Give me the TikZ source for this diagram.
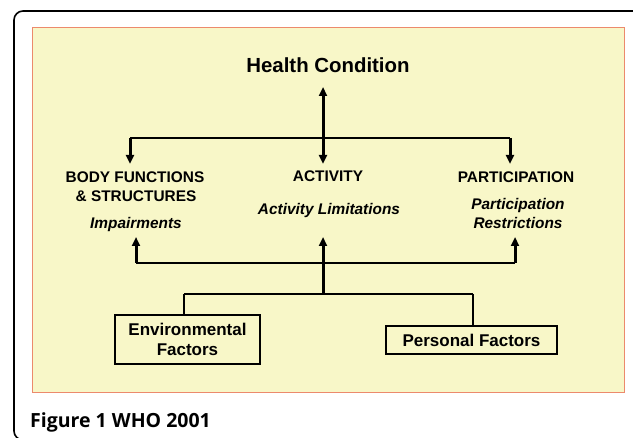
\documentclass[tikz,border=0pt]{standalone}
\usepackage{fontspec}
\setmainfont{Liberation Sans}
\newfontfamily\capfont{Open Sans}
\usetikzlibrary{arrows.meta}
\definecolor{bgyellow}{HTML}{F8F7C8}
\definecolor{bgborder}{HTML}{EC8A6C}
\begin{document}
\begin{tikzpicture}[x=1pt,y=-1pt,
 hdr/.style={font=\fontsize{20.4}{24}\selectfont\bfseries, inner sep=0, anchor=base},
 lbl/.style={font=\fontsize{15.4}{18}\selectfont\bfseries, inner sep=0, anchor=base},
 ilbl/.style={font=\fontsize{15.4}{18}\selectfont\bfseries\itshape, inner sep=0, anchor=base},
 factorbox/.style={draw, line width=1.5pt, fill=bgyellow, inner sep=0, font=\fontsize{17}{20}\selectfont\bfseries, align=center},
 conn/.style={line width=2.6pt},
 arr/.style={line width=3pt, -{Triangle[length=9pt,width=8pt]}},
 dblarr/.style={line width=3pt, {Triangle[length=9pt,width=8pt]}-{Triangle[length=9pt,width=8pt]}},
]
\useasboundingbox (0,0) rectangle (633,438);
\clip (0,0) rectangle (633,438);
\draw[line width=1.6pt, rounded corners=9pt] (14,11) rectangle (650,440);
\draw[bgborder, fill=bgyellow, line width=1pt] (32,28) rectangle (624,393);

\node[hdr] (hc) at (328,73) {Health Condition};
\node[lbl] (bf1) at (135,183) {BODY FUNCTIONS};
\node[lbl] (bf2) at (136,202) {\& STRUCTURES};
\node[ilbl] (imp) at (136,229) {Impairments};
\node[lbl] (act) at (328,182) {ACTIVITY};
\node[ilbl] (actl) at (329,215) {Activity Limitations};
\node[lbl] (part) at (516,183) {PARTICIPATION};
\node[ilbl] (partl1) at (518,210) {Participation};
\node[ilbl] (partl2) at (518,229) {Restrictions};

\node[factorbox, minimum width=145pt, minimum height=49pt] (env) at (187.5,339.5) {Environmental\\Factors};
\node[factorbox, minimum width=171pt, minimum height=28pt] (pers) at (471.5,340) {Personal Factors};

\node[font=\capfont\fontsize{19.5}{23}\selectfont\bfseries, anchor=base west, inner sep=0] (cap) at (30,428) {Figure 1 WHO 2001};

% upper connectors
\coordinate (hctip) at (323,87);
\coordinate (acttop) at (323,164);
\coordinate (jl) at (130,138);
\coordinate (jr) at (510,138);
\coordinate (bftop) at (130,164);
\coordinate (parttop) at (510,164);
\draw[conn] (jl) -- (jr);
\draw[dblarr] (hctip) -- (acttop);
\draw[arr] (jl) -- (bftop);
\draw[arr] (jr) -- (parttop);

% lower connectors
\coordinate (ll) at (136,263);
\coordinate (lr) at (515,263);
\coordinate (imptip) at (136,237);
\coordinate (actltip) at (323,237);
\coordinate (partltip) at (515,237);
\coordinate (fj) at (323,294);
\coordinate (fl) at (184,294);
\coordinate (fr) at (473,294);
\draw[conn] (ll) -- (lr);
\draw[arr] (ll) -- (imptip);
\draw[arr] (lr) -- (partltip);
\draw[arr] (fj) -- (actltip);
\draw[conn] (fl) -- (fr);
\draw[conn] (fl) -- (fl |- env.north);
\draw[conn] (fr) -- (fr |- pers.north);
\end{tikzpicture}
\end{document}
